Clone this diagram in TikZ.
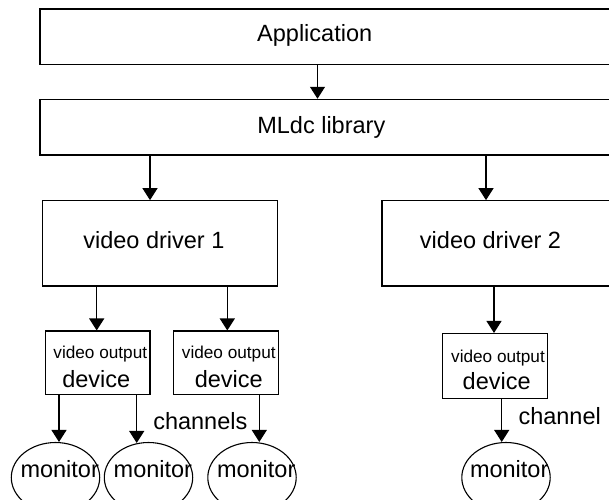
\documentclass[tikz,border=0pt]{standalone}
\usepackage{fontspec}
\setmainfont{Liberation Sans}
\usetikzlibrary{arrows.meta,shapes.geometric}

\tikzset{
  boxshape/.style={draw=black, line width=1.1pt, rectangle, inner sep=0pt},
  monshape/.style={draw=black, line width=1.1pt, ellipse, inner sep=0pt,
    minimum width=88.4pt, minimum height=70pt},
  bigtext/.style={anchor=base, inner sep=0pt, font=\fontsize{23.5}{28}\selectfont},
  smalltext/.style={anchor=base, inner sep=0pt, font=\fontsize{17.2}{20}\selectfont},
  arr/.style={draw=black, line width=1.2pt, -{Triangle[width=15pt,length=12pt]}}
}

\begin{document}
\begin{tikzpicture}[x=1pt, y=-1pt]
  \useasboundingbox (0,0) rectangle (609,499);

  % layers
  \node[boxshape, minimum width=580pt, minimum height=55.3pt] (app) at (330,36.65) {};
  \node[boxshape, minimum width=580pt, minimum height=55.7pt] (ml) at (330,127.15) {};
  \node[boxshape, minimum width=235pt, minimum height=85.3pt] (d1) at (160.2,243.35) {};
  \node[boxshape, minimum width=238pt, minimum height=85.3pt] (d2) at (501,243.35) {};
  \node[boxshape, minimum width=104.3pt, minimum height=63.5pt] (v1) at (97.85,362.75) {};
  \node[boxshape, minimum width=105.2pt, minimum height=63.5pt] (v2) at (225.9,362.75) {};
  \node[boxshape, minimum width=105pt, minimum height=64.8pt] (v3) at (495.2,365.9) {};

  % monitors
  \node[monshape] (m1) at (55.5,477.5) {};
  \node[monshape] (m2) at (148.5,477.5) {};
  \node[monshape] (m3) at (252,477.5) {};
  \node[monshape] (m4) at (506,477.5) {};

  % labels
  \node[bigtext] (tapp) at (314.7,41.7) {Application};
  \node[bigtext] (tml) at (321.3,133.3) {MLdc library};
  \node[bigtext] (td1) at (153.9,248.3) {video driver 1};
  \node[bigtext] (td2) at (490.5,248.3) {video driver 2};
  \node[smalltext] (tv1a) at (100.3,358.3) {video output};
  \node[bigtext] (tv1b) at (96.3,387.7) {device};
  \node[smalltext] (tv2a) at (228.8,358.3) {video output};
  \node[bigtext] (tv2b) at (228.8,387.7) {device};
  \node[smalltext] (tv3a) at (498,362.3) {video output};
  \node[bigtext] (tv3b) at (496.7,389.3) {device};
  \node[bigtext] (tch1) at (200.3,429.3) {channels};
  \node[bigtext] (tch2) at (559.7,424.3) {channel};
  \node[bigtext] (tm1) at (59.7,477.5) {monitor};
  \node[bigtext] (tm2) at (152.9,477.5) {monitor};
  \node[bigtext] (tm3) at (256.2,477.5) {monitor};
  \node[bigtext] (tm4) at (509.2,477.5) {monitor};

  % connector columns
  \coordinate (xa) at (317.5,0);
  \coordinate (xb) at (150,0);
  \coordinate (xc) at (486,0);
  \coordinate (xd) at (96.7,0);
  \coordinate (xe) at (227.3,0);
  \coordinate (xf) at (494,0);
  \coordinate (xg) at (59,0);
  \coordinate (xh) at (136.7,0);
  \coordinate (xi) at (259.3,0);
  \coordinate (xj) at (501.7,0);

  \draw[arr] (app.south -| xa) -- (ml.north -| xa);
  \draw[arr] (ml.south -| xb) -- (d1.north -| xb);
  \draw[arr] (ml.south -| xc) -- (d2.north -| xc);
  \draw[arr] (d1.south -| xd) -- (v1.north -| xd);
  \draw[arr] (d1.south -| xe) -- (v2.north -| xe);
  \draw[arr] (d2.south -| xf) -- (v3.north -| xf);
  \draw[arr] (v1.south -| xg) -- (m1.north -| xg);
  \draw[arr] (v1.south -| xh) -- ([yshift=-1pt]m2.north -| xh);
  \draw[arr] (v2.south -| xi) -- (m3.north -| xi);
  \draw[arr] (v3.south -| xj) -- (m4.north -| xj);
\end{tikzpicture}
\end{document}
